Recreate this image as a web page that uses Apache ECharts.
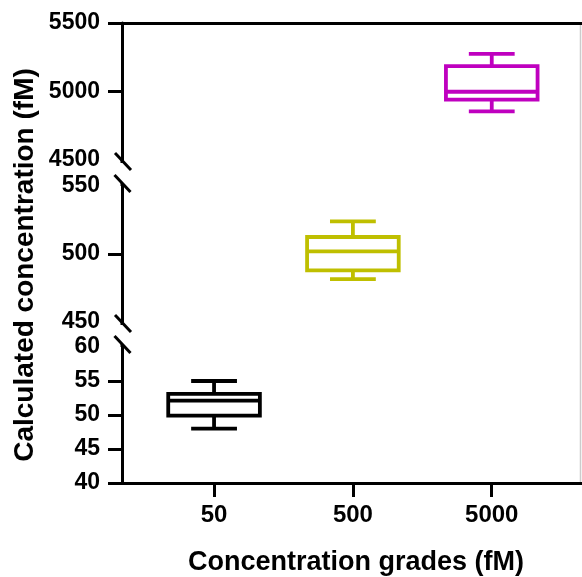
<!DOCTYPE html>
<html>
<head>
<meta charset="utf-8">
<script src="https://cdn.jsdelivr.net/npm/echarts@6/dist/echarts.min.js"></script>
<style>
html,body{margin:0;padding:0;background:#fff;}
#main{width:582px;height:577px;}
</style>
</head>
<body>
<div id="main"></div>
<script>
// ---- data ----
const categories = ['50', '500', '5000'];
// [min, Q1, median, Q3, max]
const box50 = [48, 49.9, 52.1, 53.1, 55];
const box500 = [481.5, 488, 502, 512.5, 524];
const box5000 = [4855, 4940, 4998, 5185, 5275];
const boxColors = ['#000000', '#bfbf00', '#bf00bf'];
// y-axis segments (bottom, middle, top)
const segBottomTicks = [40, 45, 50, 55, 60];
const segMiddleTicks = [450, 500, 550];
const segTopTicks = [4500, 5000, 5500];
const xTitle = 'Concentration grades (fM)';
const yTitle = 'Calculated concentration (fM)';

const FONT = '"Liberation Sans", Arial, sans-serif';
const XMIN = 0.337, XMAX = 3.65;

const chart = echarts.init(document.getElementById('main'), null, {renderer: 'canvas'});

function makeRender(color) {
  return function (params, api) {
    const x = api.value(0);
    const lo = api.coord([x, api.value(1)]);
    const q1 = api.coord([x, api.value(2)]);
    const med = api.coord([x, api.value(3)]);
    const q3 = api.coord([x, api.value(4)]);
    const hi = api.coord([x, api.value(5)]);
    const bw = api.size([0.66, 0])[0];
    const cw = api.size([0.33, 0])[0];
    const cx = med[0];
    const st = {stroke: color, lineWidth: 3.8, fill: null, lineCap: 'butt'};
    return {
      type: 'group',
      children: [
        {type: 'line', shape: {x1: cx, y1: hi[1], x2: cx, y2: q3[1]}, style: st},
        {type: 'line', shape: {x1: cx, y1: q1[1], x2: cx, y2: lo[1]}, style: st},
        {type: 'line', shape: {x1: cx - cw / 2, y1: hi[1], x2: cx + cw / 2, y2: hi[1]}, style: st},
        {type: 'line', shape: {x1: cx - cw / 2, y1: lo[1], x2: cx + cw / 2, y2: lo[1]}, style: st},
        {type: 'rect', shape: {x: cx - bw / 2, y: q3[1], width: bw, height: q1[1] - q3[1]},
          style: {stroke: color, lineWidth: 3.8, fill: '#ffffff'}},
        {type: 'line', shape: {x1: cx - bw / 2, y1: med[1], x2: cx + bw / 2, y2: med[1]}, style: st}
      ]
    };
  };
}

const axisLineStyle = {color: '#000', width: 3};
const labelStyle = {color: '#000', fontWeight: 'bold', fontFamily: FONT, fontSize: 23};

function yAxisFor(gridIndex, ticks, tickVals) {
  return {
    type: 'value', gridIndex: gridIndex,
    min: ticks[0], max: ticks[ticks.length - 1],
    interval: ticks[1] - ticks[0],
    axisLine: {show: true, onZero: false, lineStyle: axisLineStyle},
    axisTick: {show: true, length: 14, lineStyle: {color: '#000', width: 3}, customValues: tickVals},
    axisLabel: Object.assign({margin: 22, customValues: ticks,
      formatter: function (v) { return String(v); }}, labelStyle),
    splitLine: {show: false}
  };
}

const grids = [
  {left: 122, right: 0, top: 23, height: 137},   // top 4500-5500
  {left: 122, right: 0, top: 186, height: 136},  // middle 450-550
  {left: 122, right: 0, top: 347, height: 136}   // bottom 40-60
];

const option = {
  animation: false,
  backgroundColor: '#ffffff',
  grid: grids,
  xAxis: [
    {type: 'value', gridIndex: 0, min: XMIN, max: XMAX, position: 'top',
      axisLine: {show: true, onZero: false, lineStyle: axisLineStyle},
      axisTick: {show: false}, axisLabel: {show: false}, splitLine: {show: false}},
    {type: 'value', gridIndex: 1, min: XMIN, max: XMAX, show: false, splitLine: {show: false}},
    {type: 'value', gridIndex: 2, min: XMIN, max: XMAX,
      axisLine: {show: true, onZero: false, lineStyle: axisLineStyle},
      axisTick: {show: true, length: 14, lineStyle: {color: '#000', width: 3}, customValues: [1, 2, 3]},
      axisLabel: {margin: 20, fontSize: 24, customValues: [1, 2, 3],
        formatter: function (v) { return categories[Math.round(v) - 1] || ''; },
        color: '#000', fontWeight: 'bold', fontFamily: FONT},
      splitLine: {show: false}}
  ],
  yAxis: [
    yAxisFor(0, segTopTicks, [5000, 5500]),
    yAxisFor(1, segMiddleTicks, [500]),
    yAxisFor(2, segBottomTicks, [40, 45, 50, 55])
  ],
  series: [
    {type: 'custom', xAxisIndex: 2, yAxisIndex: 2, renderItem: makeRender(boxColors[0]),
      encode: {x: 0, y: [1, 2, 3, 4, 5]}, data: [[1].concat(box50)]},
    {type: 'custom', xAxisIndex: 1, yAxisIndex: 1, renderItem: makeRender(boxColors[1]),
      encode: {x: 0, y: [1, 2, 3, 4, 5]}, data: [[2].concat(box500)]},
    {type: 'custom', xAxisIndex: 0, yAxisIndex: 0, renderItem: makeRender(boxColors[2]),
      encode: {x: 0, y: [1, 2, 3, 4, 5]}, data: [[3].concat(box5000)]}
  ]
};
chart.setOption(option);

// axis break decorations, positioned from the axes themselves
const pTopLow = chart.convertToPixel({gridIndex: 0}, [XMIN, segTopTicks[0]]);
const pTopHigh = chart.convertToPixel({gridIndex: 0}, [XMAX, segTopTicks[segTopTicks.length - 1]]);
const pMidHigh = chart.convertToPixel({gridIndex: 1}, [XMIN, segMiddleTicks[segMiddleTicks.length - 1]]);
const pMidLow = chart.convertToPixel({gridIndex: 1}, [XMIN, segMiddleTicks[0]]);
const pBotHigh = chart.convertToPixel({gridIndex: 2}, [XMIN, segBottomTicks[segBottomTicks.length - 1]]);
const pBotLow = chart.convertToPixel({gridIndex: 2}, [XMAX, segBottomTicks[0]]);
const ax = pTopLow[0];
const lineSt = {stroke: '#000', lineWidth: 3};
const g = [];
function slash(cx, cy) {
  g.push({type: 'line', shape: {x1: cx - 8, y1: cy - 8.5, x2: cx + 8, y2: cy + 8.5}, style: lineSt, silent: true});
}
function ext(y1, y2) {
  g.push({type: 'line', shape: {x1: ax, y1: y1, x2: ax, y2: y2}, style: lineSt, silent: true});
}
ext(pTopLow[1], pTopLow[1] + 3); slash(ax + 1, pTopLow[1] + 1.5);
ext(pMidHigh[1] - 3, pMidHigh[1]); slash(ax + 0.5, pMidHigh[1] - 2.5);
ext(pMidLow[1], pMidLow[1] + 3); slash(ax + 1, pMidLow[1] + 1.5);
ext(pBotHigh[1] - 3, pBotHigh[1]); slash(ax + 0.5, pBotHigh[1] - 2.5);
// faint right frame line
g.push({type: 'line', shape: {x1: pTopHigh[0] - 1.5, y1: pTopHigh[1], x2: pTopHigh[0] - 1.5, y2: pBotLow[1]},
  style: {stroke: '#cccccc', lineWidth: 1.5}, silent: true});
// titles
g.push({type: 'text', x: 25, y: 265, rotation: Math.PI / 2,
  style: {text: yTitle, font: 'bold 28px ' + FONT, fill: '#000', align: 'center', verticalAlign: 'middle'}});
g.push({type: 'text', x: 356, y: 563,
  style: {text: xTitle, font: 'bold 27px ' + FONT, fill: '#000', align: 'center', verticalAlign: 'middle'}});
chart.setOption({graphic: g});
</script>
</body>
</html>
